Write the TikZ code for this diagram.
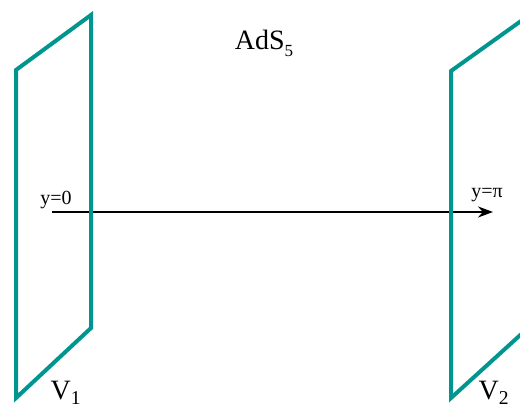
\documentclass[tikz,border=0pt]{standalone}
\usepackage{fontspec}
\setmainfont{Liberation Serif}
\usetikzlibrary{arrows.meta}
\definecolor{branecol}{RGB}{0,150,143}
\newcommand{\lowsub}[1]{\raisebox{-7pt}{\fontsize{17}{19}\selectfont #1}}

\begin{document}
\begin{tikzpicture}[
    x=1pt, y=-1pt,
    brane/.style={draw=branecol, line width=4pt, line join=miter},
    axis/.style={draw=black, line width=2pt, -{Stealth[length=15pt, width=11pt]}},
    lbl/.style={inner sep=0pt, anchor=base},
    big/.style={font=\fontsize{28}{30}\selectfont},
    small/.style={font=\fontsize{20}{22}\selectfont}
]
    \useasboundingbox (0,0) rectangle (520,411);
    \clip (0,0) rectangle (520,411);

    % fifth dimension
    \coordinate (ystart) at (52,212);
    \coordinate (yend) at (493,212);
    \path [axis] (ystart) -- (yend);

    % the two branes
    \draw [brane] (16,70) -- (91,15) -- (91,328) -- (16,398) -- cycle;
    \draw [brane] (451,71) -- (528,16) -- (528,328) -- (451,398) -- cycle;

    % labels
    \node [lbl, big] (bulk) at (264,50) {AdS\lowsub{5}};
    \node [lbl, small] (y0) at (56,205) {y=0};
    \node [lbl, small] (ypi) at (487,198) {y=π};
    \node [lbl, big] (v1) at (66,400) {V\textsubscript{1}};
    \node [lbl, big] (v2) at (494,400) {V\textsubscript{2}};
\end{tikzpicture}
\end{document}
